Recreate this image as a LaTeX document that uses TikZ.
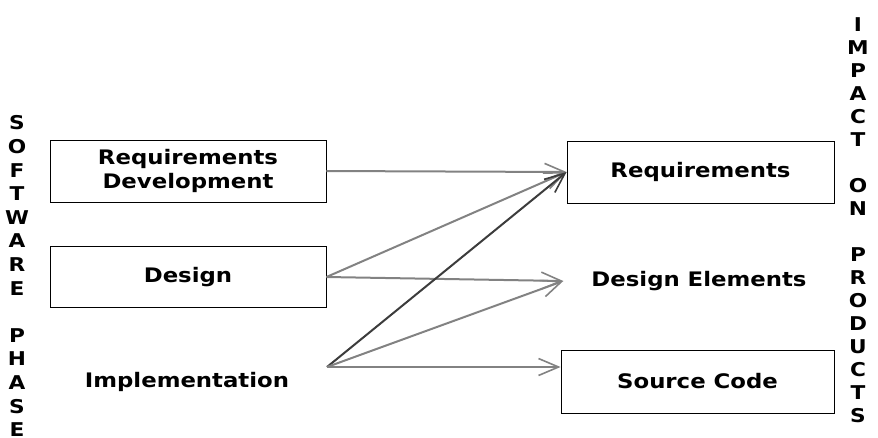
\documentclass[tikz,border=0pt]{standalone}
\usepackage{fontspec}
\newfontfamily\lblfont{DejaVu Sans}[FakeStretch=1.14]
\usetikzlibrary{arrows.meta}
\begin{document}
\begin{tikzpicture}[x=1pt,y=-1pt,
  lbl/.style={font=\lblfont\bfseries\fontsize{20}{24}\selectfont, text=black, align=center, inner sep=0pt},
  phasebox/.style={lbl, draw, line width=0.9pt, inner sep=0pt},
  letter/.style={font=\lblfont\bfseries\fontsize{19}{20}\selectfont, inner sep=0pt},
  link/.style={draw={rgb,255:red,130;green,130;blue,130}, line width=2pt,
    -{Straight Barb[length=20pt,width=17pt,line width=1.6pt]}},
  darklink/.style={link, draw={rgb,255:red,60;green,60;blue,60}}
]
\useasboundingbox (0,0) rectangle (878,437);

% software phases
\node[phasebox, minimum width=276pt, minimum height=62pt] (rd) at (188,171) {Requirements\\Development};
\node[phasebox, minimum width=276pt, minimum height=61pt] (des) at (188,277) {Design};
\node[lbl] (impl) at (187,382) {Implementation};
\coordinate (implout) at (327,367);

% products
\node[phasebox, minimum width=267pt, minimum height=62pt] (req) at (700.5,172) {Requirements};
\node[lbl, inner xsep=28pt] (de) at (699,281) {Design Elements};
\node[phasebox, minimum width=273pt, minimum height=63pt] (sc) at (697.5,381.5) {Source Code};

% impacts
\draw[link] (rd.east) -- (req.west);
\draw[link] (des.east) -- (req.west);
\draw[link] (des.east) -- (de.west);
\draw[darklink] (implout) -- (req.west);
\draw[link] (implout) -- (de.west);
\draw[link] (implout) -- (implout -| sc.west);

% side captions
\foreach \ch [count=\i] in {S,O,F,T,W,A,R,E,{},P,H,A,S,E}
  \node[letter] (sp\i) at (17,{123+(\i-1)*23.6}) {\ch};
\foreach \ch [count=\i] in {I,M,P,A,C,T,{},O,N,{},P,R,O,D,U,C,T,S}
  \node[letter] (ip\i) at (858,{25+(\i-1)*23}) {\ch};
\end{tikzpicture}
\end{document}
